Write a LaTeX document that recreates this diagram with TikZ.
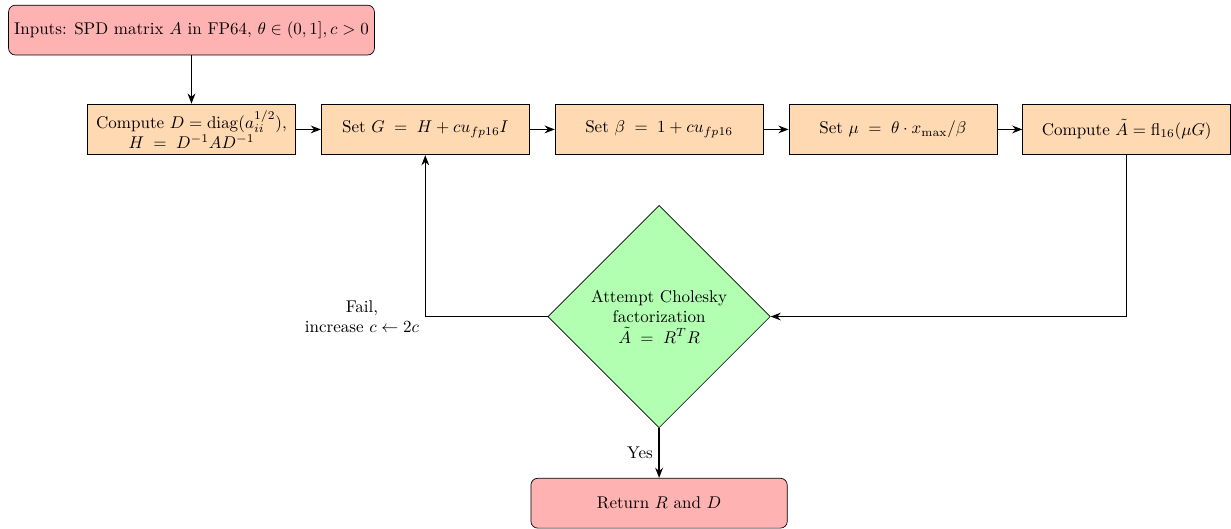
\documentclass[tikz,border=0pt]{standalone}
\usepackage{xcolor}
\usepackage{tikz}
\usetikzlibrary{shapes.geometric, arrows.meta, positioning, calc}

\begin{document}
\begin{tikzpicture}[
    node distance=0.52cm,
    box/.style={draw, minimum width=4.3cm, minimum height=1.05cm, align=center, fill=orange!30},
    endbox/.style={draw, rounded corners, minimum height=1.03cm, align=center, fill=red!30},
    decision/.style={draw, diamond, aspect=1, minimum width=4.6cm, minimum height=4.6cm, inner sep=0pt, align=center, fill=green!30},
    arrow/.style={-{Stealth[length=2.1mm, width=1.6mm]}, thick}
]
    % Top row of steps
    \node[box] (scale) {
        Compute $D=\mathrm{diag}(a_{ii}^{1/2})$,\\
        $H \;=\; D^{-1}AD^{-1}$
    };
    \node[box, right=of scale] (shift) {Set $G \;=\; H + cu_{fp16}I$};
    \node[box, right=of shift] (beta) {Set $\beta \;=\; 1 + cu_{fp16}$};
    \node[box, right=of beta] (mu) {Set $\mu \;=\; \theta \cdot x_{\max}/\beta$};
    \node[box, right=of mu] (round) {Compute $\tilde{A} = \mathrm{fl}_{16}(\mu G)$};

    % Inputs
    \node[endbox, above=1cm of scale] (inputs) {Inputs: SPD matrix $A$ in FP64, $\theta \in (0,1], c > 0$};

    % Cholesky test
    \node[decision, below=1.03cm of beta] (chol) {
        Attempt Cholesky\\
        factorization\\
        $\tilde{A} \;=\; R^T R$
    };

    % Output
    \node[endbox, minimum width=5.3cm, below=1.03cm of chol] (ret) {Return $R$ and $D$};

    \draw[arrow] (inputs) -- (scale);
    \draw[arrow] (scale) -- (shift);
    \draw[arrow] (shift) -- (beta);
    \draw[arrow] (beta) -- (mu);
    \draw[arrow] (mu) -- (round);
    \draw[arrow] (round.south) |- (chol.east);
    \draw[arrow] (chol.west) -| node[pos=0.5, left, align=center] {Fail,\\ increase $c \leftarrow 2c$} (shift.south);
    \draw[arrow] (chol.south) -- node[left] {Yes} (ret.north);

    \useasboundingbox ($(inputs.north west)+(-0.17,0.1)$) rectangle (round.east |- ret.south);
\end{tikzpicture}
\end{document}
